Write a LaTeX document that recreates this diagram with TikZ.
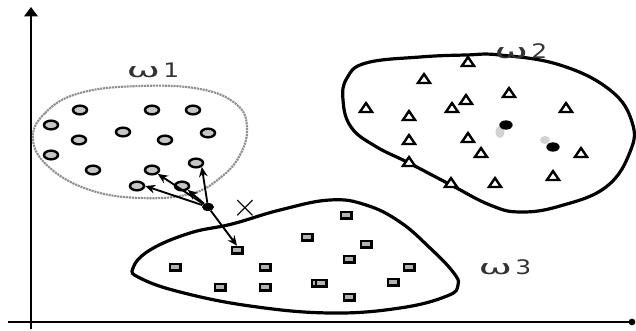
\documentclass[tikz,border=0pt]{standalone}
\usepackage{graphicx}
\usepackage{fontspec}
\newfontfamily\labfont{DejaVu Sans}
\usetikzlibrary{shapes.geometric,arrows.meta}
\newcommand{\wlab}[1]{\scalebox{2.0}[1]{ω}\,\scalebox{1.25}[1]{#1}}
\tikzset{
  circmark/.style={ellipse,draw=black,fill=gray!45,line width=1.8pt,minimum width=10.5pt,minimum height=6.5pt,inner sep=0pt},
  trimark/.style={regular polygon,regular polygon sides=3,draw=black,fill=white,line width=1.8pt,minimum size=10.5pt,inner sep=0pt,yscale=0.85},
  sqmark/.style={rectangle,draw=black,fill=black,minimum width=9pt,minimum height=6pt,inner sep=0pt,
     path picture={\fill[gray!60] ([xshift=1.5pt,yshift=-1.8pt]path picture bounding box.north west) rectangle ([xshift=-1.5pt,yshift=1.8pt]path picture bounding box.south east);}},
  blobmark/.style={ellipse,fill=black,minimum width=9pt,minimum height=6pt,inner sep=0pt},
  lab/.style={font=\labfont\fontsize{15}{17}\selectfont,text=black!80,inner sep=0pt},
  conn/.style={line width=1.4pt,-{Stealth[length=7.5pt,width=6.5pt]}},
  axis/.style={line width=1.5pt},
  boundary/.style={line width=2.4pt,black},
}
\begin{document}
\begin{tikzpicture}[x=0.75pt,y=-0.75pt]
\useasboundingbox (0,0) rectangle (636,331);
% axes
\coordinate (ybot) at (31,329);
\coordinate (ytop) at (31,7);
\coordinate (xleft) at (8,322);
\node[circle,fill=black,minimum size=5pt,inner sep=0pt] (xend) at (632,322) {};
\draw[axis,-{Triangle[width=10pt,length=7pt]}] (ybot) -- (ytop);
\draw[axis] (xleft) -- (xend.center);
% cluster boundaries
\draw[gray!55!black!60,line width=1.6pt,dash pattern=on 1.6pt off 0.6pt]
  plot[smooth cycle,tension=0.7] coordinates {(33,140) (45,113) (80,93) (140,86) (200,89) (236,104) (247,127) (240,155) (220,178) (190,194) (140,198) (90,190) (50,168)};
\draw[boundary]
  plot[smooth cycle,tension=0.7] coordinates {(343,100) (351,127) (375,146) (409,163) (451,185) (490,205) (520,212) (560,206) (606,187) (630,152) (632,122) (610,90) (560,65) (500,55) (466,55) (420,57) (366,63) (347,78)};
\draw[boundary]
  plot[smooth cycle,tension=0.7] coordinates {(133,268) (150,250) (190,233) (232,224) (280,210) (330,200) (366,205) (400,222) (430,248) (453,272) (458,285) (447,296) (400,308) (330,313) (250,306) (180,292) (140,278)};
% labels
\node[lab] (w1) at (153,70) {\wlab{1}};
\node[lab] (w2) at (521,51) {\wlab{2}};
\node[lab] (w3) at (505,267) {\wlab{3}};
\node[font=\fontsize{24}{24}\selectfont,inner sep=0pt] (xm) at (245,208) {$\times$};
% class 1 circles
\node[circmark] (c1) at (80,110) {};
\node[circmark] (c2) at (152,110) {};
\node[circmark] (c3) at (193,110) {};
\node[circmark] (c4) at (51,125) {};
\node[circmark] (c5) at (123,132) {};
\node[circmark] (c6) at (79,140) {};
\node[circmark] (c7) at (165,140) {};
\node[circmark] (c8) at (208,133) {};
\node[circmark] (c9) at (51,155) {};
\node[circmark] (c10) at (93,170) {};
\node[circmark] (c11) at (152,170) {};
\node[circmark] (c12) at (196,163) {};
\node[circmark] (c13) at (137,186) {};
\node[circmark] (c14) at (182,186) {};
% class 2 triangles
\foreach \n/\x/\y in {t1/468/63, t2/424/80, t3/509/94, t4/366/109, t5/466/101, t6/452/109, t7/409/117, t8/566/109, t9/409/141, t10/468/139, t11/481/154, t12/581/154, t13/409/163, t14/553/177, t15/451/184, t16/495/184}
  \node[trimark] (\n) at (\x,\y) {};
% dark samples in class 2
\fill[gray!35] (500,132) ellipse (4.5 and 6);
\fill[gray!35] (545,140) ellipse (5 and 4);
\node[blobmark,minimum width=10pt,minimum height=7pt] (b1) at (506,125) {};
\node[blobmark,minimum width=10pt,minimum height=7pt] (b2) at (553,147) {};
% class 3 squares
\foreach \n/\x/\y in {s1/237/250, s2/175/267, s3/265/267, s4/220/287, s5/265/287, s6/307/237, s7/317/283, s8/346/215, s9/366/244, s10/349/259, s11/409/267, s12/393/282, s13/321/283, s14/349/297}
  \node[sqmark] (\n) at (\x,\y) {};
% unknown sample and its nearest neighbours
\node[blobmark] (q) at (208,207) {};
\draw[conn] (q) -- (c12.south east);
\draw[conn] (q) -- (s1.north);
\draw[conn] (q) -- (c11.south east);
\draw[conn] (q) -- (c13.east);
\draw[conn] (q) -- (c14.south east);
\end{tikzpicture}
\end{document}
